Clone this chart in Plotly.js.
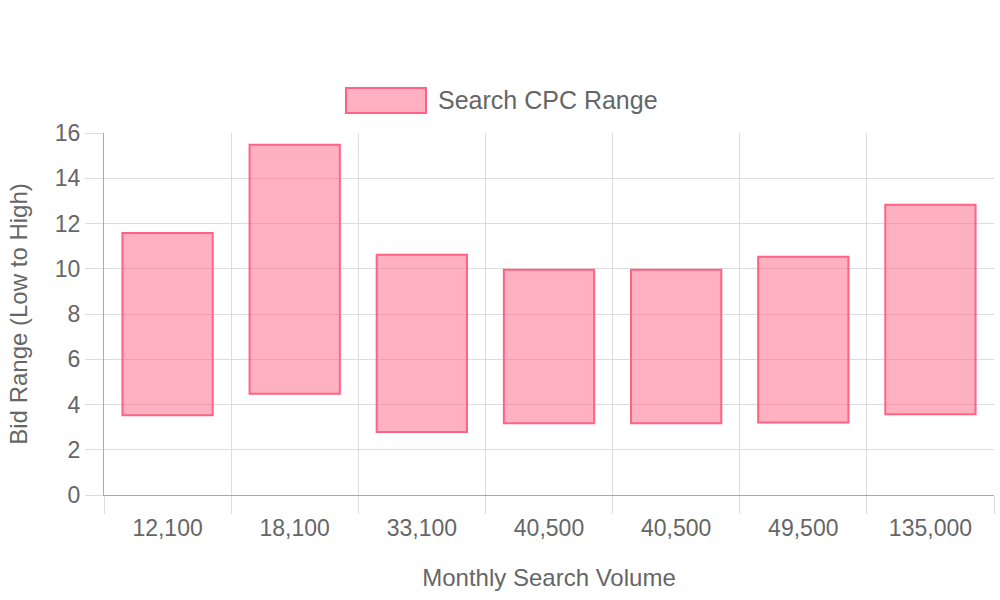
<!DOCTYPE html>
<html>
<head>
<meta charset="utf-8">
<script src="https://cdn.plot.ly/plotly-3.0.1.min.js"></script>
<style>
  html, body { margin: 0; padding: 0; background: #fff; }
  #chart { width: 1000px; height: 600px; }
</style>
</head>
<body>
<div id="chart"></div>
<script>
// Category labels (monthly search volume)
const categories = ["12,100", "18,100", "33,100", "40,500", "40,500", "49,500", "135,000"];
// Low and high CPC bid for each keyword
const lowBid  = [3.53, 4.48, 2.79, 3.17, 3.17, 3.20, 3.57];
const highBid = [11.58, 15.48, 10.62, 9.96, 9.96, 10.53, 12.83];
const seriesName = "Search CPC Range";

const idx = categories.map((c, i) => i);
const span = highBid.map((h, i) => h - lowBid[i]);

const FONT = "Liberation Sans, Arial, Helvetica, sans-serif";
const TXT = "#666666";
const GRID = "#dddddd";
const AXIS = "#a8a8a8";

const trace = {
  type: "bar",
  name: seriesName,
  x: idx,
  y: span,
  base: lowBid,
  marker: {
    color: "rgba(255,99,132,0.5)",
    line: { color: "rgb(255,99,132)", width: 2 }
  },
  showlegend: false,
  hoverinfo: "skip"
};

// legend drawn in paper coordinates (box + text)
const W = 890, H = 362, L = 104, T = 133;
const px = v => (v - L) / W;
const py = v => (T + H - v) / H;

const layout = {
  width: 1000,
  height: 600,
  margin: { l: 104, r: 6, t: 133, b: 105 },
  paper_bgcolor: "#ffffff",
  plot_bgcolor: "#ffffff",
  font: { family: FONT, color: TXT, size: 23 },
  bargap: 0.29,
  xaxis: {
    type: "category",
    tickmode: "array",
    tickvals: idx,
    ticktext: categories,
    tickson: "boundaries",
    range: [-0.5, categories.length - 0.5],
    ticks: "outside",
    ticklen: 18,
    tickwidth: 1,
    tickcolor: GRID,
    showgrid: true,
    gridcolor: GRID,
    gridwidth: 1,
    showline: true,
    linecolor: AXIS,
    linewidth: 1,
    zeroline: false,
    ticklabelstandoff: 12,
    tickfont: { family: FONT, size: 23, color: TXT },
    title: { text: "Monthly Search Volume", font: { family: FONT, size: 24, color: TXT }, standoff: 29 },
    automargin: false,
    fixedrange: true
  },
  yaxis: {
    range: [0, 16],
    tick0: 0,
    dtick: 2,
    ticks: "outside",
    ticklen: 18,
    tickwidth: 1,
    tickcolor: GRID,
    showgrid: true,
    gridcolor: GRID,
    gridwidth: 1,
    showline: true,
    linecolor: AXIS,
    linewidth: 1,
    zeroline: false,
    tickfont: { family: FONT, size: 23, color: TXT },
    title: { text: "Bid Range (Low to High)", font: { family: FONT, size: 24, color: TXT }, standoff: 20 },
    automargin: false,
    fixedrange: true
  },
  shapes: [{
    type: "rect",
    xref: "paper", yref: "paper",
    x0: px(346), x1: px(426), y0: py(113), y1: py(88),
    fillcolor: "rgba(255,99,132,0.5)",
    line: { color: "rgb(255,99,132)", width: 2 }
  }],
  annotations: [{
    xref: "paper", yref: "paper",
    x: px(436), y: py(100.5),
    xanchor: "left", yanchor: "middle",
    text: seriesName,
    showarrow: false,
    font: { family: FONT, size: 25, color: TXT }
  }]
};

Plotly.newPlot("chart", [trace], layout, { displayModeBar: false, staticPlot: true });
</script>
</body>
</html>
